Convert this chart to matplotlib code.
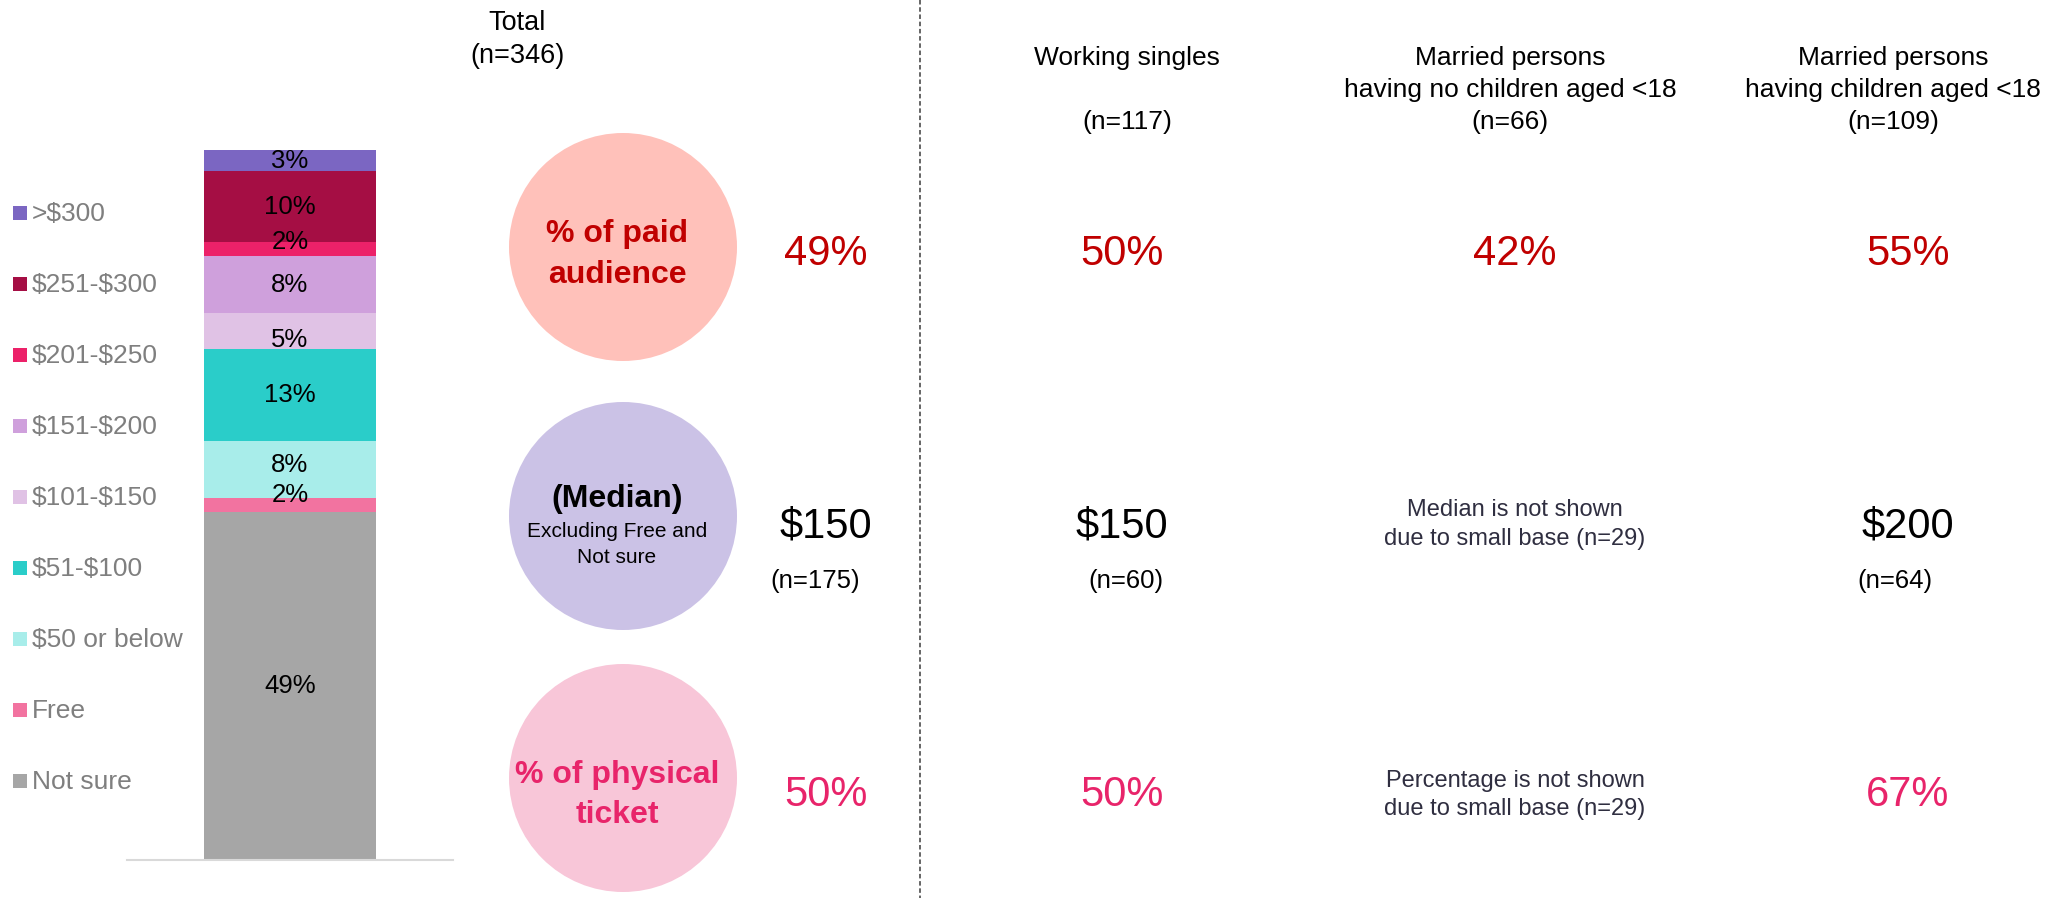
import matplotlib
matplotlib.use("Agg")
import matplotlib.pyplot as plt
from matplotlib.patches import Circle, Rectangle

plt.rcParams['font.family'] = ['Liberation Sans', 'DejaVu Sans']
plt.rcParams['text.parse_math'] = False

# stacked bar, listed bottom -> top
price_bands = ["Not sure", "Free", "$50 or below", "$51-$100", "$101-$150",
               "$151-$200", "$201-$250", "$251-$300", ">$300"]
total_share = [49, 2, 8, 13, 5, 8, 2, 10, 3]
band_colors = ["#A6A6A6", "#F273A0", "#A8EDEA", "#2ACDC9", "#E0C2E5",
               "#CFA0DC", "#EC2169", "#A50E44", "#7B66C2"]

total_n = 346
groups = [["Working singles"],
          ["Married persons", "having no children aged <18"],
          ["Married persons", "having children aged <18"]]
group_n = [117, 66, 109]

# total first, then the three groups
paid_pct = [49, 50, 42, 55]
median_spend = [150, 150, None, 200]
median_n = [175, 60, None, 64]
physical_pct = [50, 50, None, 67]
small_base_n = 29

W, H = 2059, 898
fig = plt.figure(figsize=(W / 100, H / 100), dpi=100)
ov = fig.add_axes([0, 0, 1, 1])
ov.set_xlim(0, W)
ov.set_ylim(H, 0)
ov.axis("off")

red = "#C00000"
pink = "#E8246A"
grey_txt = "#7F7F7F"
note_col = "#2F2E40"

# ---- stacked bar
bx = fig.add_axes([127 / W, (H - 860) / H, 326 / W, 710 / H])
# small labels are nudged a little so they don't sit on each other (in %-units)
nudge = [0, 1.4, 0.6, 0, -1.2, 0, 1.0, 0, 0]
bottom = 0
for band, v, c, dy in zip(price_bands, total_share, band_colors, nudge):
    bx.bar(0, v, bottom=bottom, width=0.525, color=c, label=band)
    bx.text(0, bottom + v / 2 + dy, f"{v}%", ha="center", va="center", fontsize=18.5)
    bottom += v
bx.set_xlim(-0.5, 0.5)
bx.set_ylim(0, 100)
for s in ["top", "left", "right"]:
    bx.spines[s].set_visible(False)
bx.spines["bottom"].set_color("#D9D9D9")
bx.spines["bottom"].set_linewidth(1.5)
bx.set_xticks([])
bx.set_yticks([])
bx.patch.set_alpha(0)

# legend, top band first
for i, (band, c) in enumerate(zip(price_bands[::-1], band_colors[::-1])):
    y = 213 + i * 71
    ov.add_patch(Rectangle((13, y - 7), 14, 14, color=c, lw=0))
    ov.text(32, y + 1, band, fontsize=19, color=grey_txt, va="center")

# ---- headers
ov.text(517, 30, "Total", fontsize=19.5, ha="center", va="baseline")
ov.text(517, 63, f"(n={total_n})", fontsize=19.5, ha="center", va="baseline")

head_x = [1127, 1510, 1893]
for x, lines, n in zip(head_x, groups, group_n):
    for j, line in enumerate(lines):
        ov.text(x, 65 + 32 * j, line, fontsize=19, ha="center", va="baseline")
    ov.text(x, 129, f"(n={n})", fontsize=19, ha="center", va="baseline")

# ---- metric circles
circle_y = [247, 516, 778]
circle_cols = ["#FFC1BA", "#CBC2E6", "#F8C6D8"]
for y, c in zip(circle_y, circle_cols):
    ov.add_patch(Circle((623, y), 114, color=c, lw=0))

cx = 617
ov.text(cx, 242, "% of paid", fontsize=23, fontweight="bold", color=red, ha="center", va="baseline")
ov.text(cx, 283, "audience", fontsize=23, fontweight="bold", color=red, ha="center", va="baseline")
ov.text(cx, 507, "(Median)", fontsize=23, fontweight="bold", ha="center", va="baseline")
ov.text(cx, 537, "Excluding Free and", fontsize=15, ha="center", va="baseline")
ov.text(cx, 563, "Not sure", fontsize=15, ha="center", va="baseline")
ov.text(cx, 783, "% of physical", fontsize=23, fontweight="bold", color=pink, ha="center", va="baseline")
ov.text(cx, 823, "ticket", fontsize=23, fontweight="bold", color=pink, ha="center", va="baseline")

# ---- values
val_x = [826, 1122, 1515, 1908]
n_x = [815, 1126, 1515, 1895]
for k in range(4):
    x = val_x[k]
    ov.text(x, 265, f"{paid_pct[k]}%", fontsize=30, color=red, ha="center", va="baseline")
    if median_spend[k] is not None:
        ov.text(x, 537, f"${median_spend[k]}", fontsize=30, ha="center", va="baseline")
        ov.text(n_x[k], 588, f"(n={median_n[k]})", fontsize=18.5, ha="center", va="baseline")
    else:
        ov.text(x, 516, "Median is not shown", fontsize=17, color=note_col, ha="center", va="baseline")
        ov.text(x, 545, f"due to small base (n={small_base_n})", fontsize=17, color=note_col,
                ha="center", va="baseline")
    if physical_pct[k] is not None:
        ov.text(x, 806, f"{physical_pct[k]}%", fontsize=30, color=pink, ha="center", va="baseline")
    else:
        ov.text(x, 787, "Percentage is not shown", fontsize=17, color=note_col, ha="center", va="baseline")
        ov.text(x, 815, f"due to small base (n={small_base_n})", fontsize=17, color=note_col,
                ha="center", va="baseline")

# divider
ov.plot([920, 920], [0, H], color="#595959", lw=1.3, ls=(0, (2.5, 1.5)))

plt.savefig("out.png", dpi=100)
plt.close()
